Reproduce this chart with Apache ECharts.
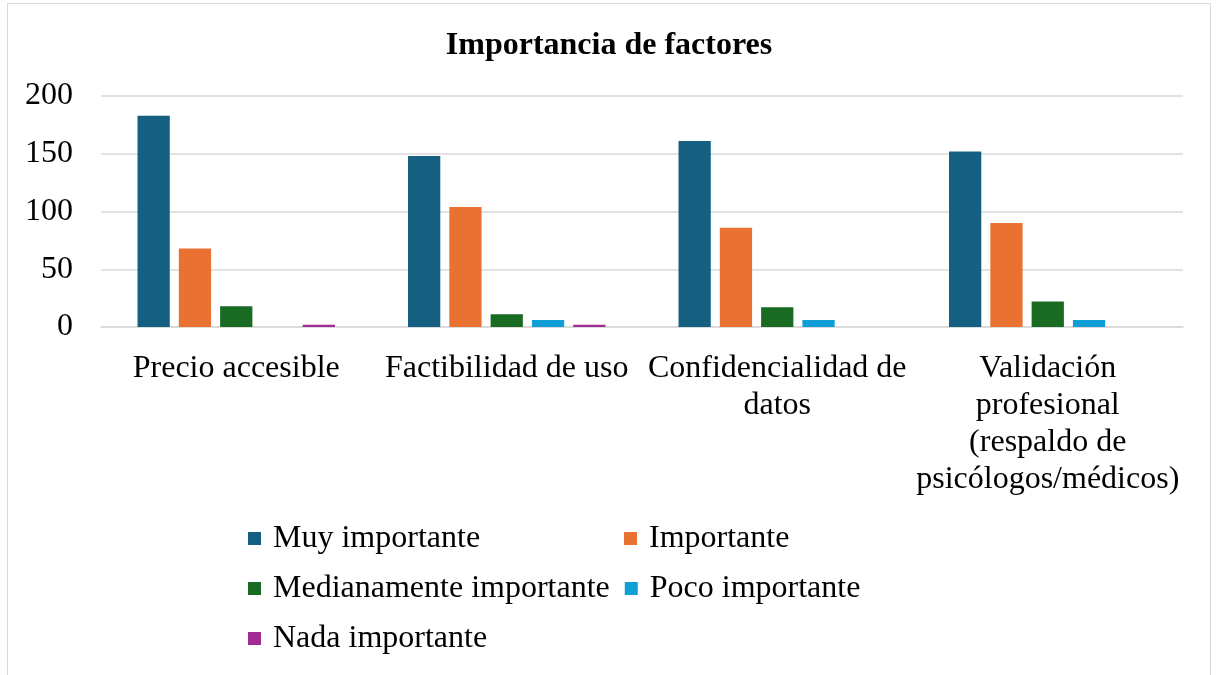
<!DOCTYPE html>
<html>
<head>
<meta charset="utf-8">
<script src="https://cdn.jsdelivr.net/npm/echarts@6/dist/echarts.min.js"></script>
<style>
  html, body { margin: 0; padding: 0; background: #fff; }
  #chart { position: absolute; left: 7px; top: 3px; width: 1204px; height: 680px;
           border: 1.5px solid #d9d9d9; box-sizing: border-box; }
</style>
</head>
<body>
<div id="chart"></div>
<script>
// categorias (con saltos de linea como en el original)
var categorias = ['Precio accesible', 'Factibilidad de uso', 'Confidencialidad de\ndatos', 'Validación\nprofesional\n(respaldo de\npsicólogos/médicos)'];
var nombres = ['Muy importante', 'Importante', 'Medianamente importante', 'Poco importante', 'Nada importante'];
var colores = ['#156082', '#e97132', '#196b24', '#0f9ed5', '#a02b93'];
var muyImportante = [183, 148, 161, 152];
var importante = [68, 104, 86, 90];
var medianamente = [18, 11, 17, 22];
var pocoImportante = [0, 6, 6, 6];
var nadaImportante = [2, 2, 0, 0];
var ticksY = [0, 50, 100, 150, 200];

var valores = [muyImportante, importante, medianamente, pocoImportante, nadaImportante];
var fuente = '"Liberation Serif", "Times New Roman", serif';

var myChart = echarts.init(document.getElementById('chart'));
var series = [];
for (var i = 0; i < nombres.length; i++) {
  series.push({
    name: nombres[i],
    type: 'bar',
    data: valores[i],
    barGap: '28%',
    barCategoryGap: '27%',
    itemStyle: { color: colores[i] }
  });
}
var option = {
  textStyle: { fontFamily: fuente },
  title: {
    text: 'Importancia de factores',
    left: 'center',
    top: 21,
    textStyle: { fontFamily: fuente, fontSize: 32, fontWeight: 'bold', color: '#000' }
  },
  grid: { left: 93, right: 27, top: 92, height: 231 },
  legend: {
    data: nombres,
    left: 235,
    top: 512,
    width: 780,
    itemWidth: 13,
    itemHeight: 13,
    icon: 'rect',
    itemGap: 15,
    textStyle: { fontFamily: fuente, fontSize: 32, color: '#000', width: 336, lineHeight: 35, padding: [0, 0, 0, 7] }
  },
  xAxis: {
    type: 'category',
    data: categorias,
    axisLine: { lineStyle: { color: '#d9d9d9', width: 1.5 } },
    axisTick: { show: false },
    axisLabel: { interval: 0, fontFamily: fuente, fontSize: 32, color: '#000', lineHeight: 37, margin: 23 }
  },
  yAxis: {
    type: 'value',
    min: ticksY[0],
    max: ticksY[ticksY.length - 1],
    interval: 50,
    axisLine: { show: false },
    axisTick: { show: false },
    splitLine: { lineStyle: { color: '#d9d9d9', width: 1.5 } },
    axisLabel: { fontFamily: fuente, fontSize: 32, color: '#000', margin: 28 }
  },
  series: series
};
myChart.setOption(option);
</script>
</body>
</html>
